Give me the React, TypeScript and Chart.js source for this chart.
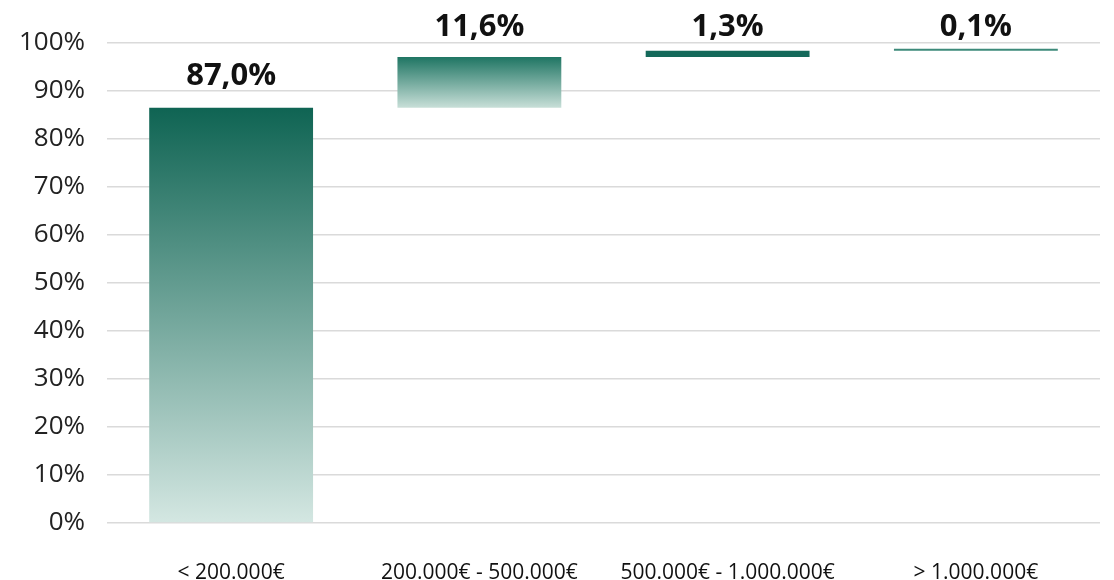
import React, { useEffect, useRef } from "react";
import { Chart, registerables } from "chart.js";

Chart.register(...registerables);

const categories = ["< 200.000€", "200.000€ - 500.000€", "500.000€ - 1.000.000€", "> 1.000.000€"];
const barStart = [0, 86.5, 97.1, 98.4];
const barEnd = [86.5, 97.1, 98.4, 98.5];
const valueLabels = ["87,0%", "11,6%", "1,3%", "0,1%"];
const yTicks = [0, 10, 20, 30, 40, 50, 60, 70, 80, 90, 100];

const FONT = "'Open Sans', 'Noto Sans', sans-serif";

export default function App() {
  const ref = useRef<HTMLCanvasElement | null>(null);

  useEffect(() => {
    document.body.style.margin = "0";
    const canvas = ref.current;
    if (!canvas) return;

    const bg = (ctx: any) => {
      const chart = ctx.chart;
      const i = ctx.dataIndex;
      if (i === 2) return "#14695a";
      if (i === 3) return "#3d8a7a";
      const y = chart.scales?.y;
      if (!y) return "#14695a";
      const top = y.getPixelForValue(barEnd[i]);
      const bot = y.getPixelForValue(barStart[i]);
      if (!isFinite(top) || !isFinite(bot)) return "#14695a";
      const g = chart.ctx.createLinearGradient(0, top, 0, bot);
      if (i === 0) {
        g.addColorStop(0, "#0f6453");
        g.addColorStop(1, "#d4e7e2");
      } else {
        g.addColorStop(0, "#1f7563");
        g.addColorStop(1, "#c8dfd8");
      }
      return g;
    };

    const labelPlugin = {
      id: "valueLabels",
      afterDatasetsDraw(chart: any) {
        const meta = chart.getDatasetMeta(0);
        const c = chart.ctx;
        c.save();
        c.font = `bold 31px ${FONT}`;
        c.fillStyle = "#111111";
        c.textAlign = "center";
        c.textBaseline = "alphabetic";
        meta.data.forEach((el: any, i: number) => {
          const top = Math.min(el.y, el.base);
          const yy = Math.max(top - 23, 36);
          c.fillText(valueLabels[i], el.x, yy);
        });
        c.restore();
      },
    };

    const chart = new Chart(canvas, {
      type: "bar",
      data: {
        labels: categories,
        datasets: [
          {
            data: barStart.map((s, i) => [s, barEnd[i]]) as any,
            backgroundColor: bg as any,
            borderWidth: 0,
            categoryPercentage: 1,
            barPercentage: 0.66,
            minBarLength: 2,
          },
        ],
      },
      options: {
        animation: false,
        responsive: false,
        maintainAspectRatio: false,
        layout: { padding: { top: 43, right: 14, left: 0, bottom: 0 } },
        plugins: {
          legend: { display: false },
          tooltip: { enabled: false },
        },
        scales: {
          x: {
            grid: { display: false, drawTicks: false },
            border: { display: false },
            ticks: {
              font: { family: FONT, size: 21 },
              color: "#111111",
              padding: 37,
            },
            afterFit: (s: any) => {
              s.height = 57;
            },
          },
          y: {
            min: 0,
            max: 100,
            afterBuildTicks: (s: any) => {
              s.ticks = yTicks.map((v) => ({ value: v }));
            },
            grid: { color: "#dadada", lineWidth: 1.5, drawTicks: false },
            border: { display: false },
            ticks: {
              font: { family: FONT, size: 26 },
              color: "#222222",
              padding: 22,
              callback: (v: any) => v + "%",
            },
            afterFit: (s: any) => {
              s.width = 107;
            },
          },
        },
      },
      plugins: [labelPlugin],
    });
    chart.update();

    return () => chart.destroy();
  }, []);

  return (
    <div style={{ width: 1114, height: 580, background: "#ffffff" }}>
      <canvas ref={ref} width={1114} height={580} style={{ display: "block" }} />
    </div>
  );
}
